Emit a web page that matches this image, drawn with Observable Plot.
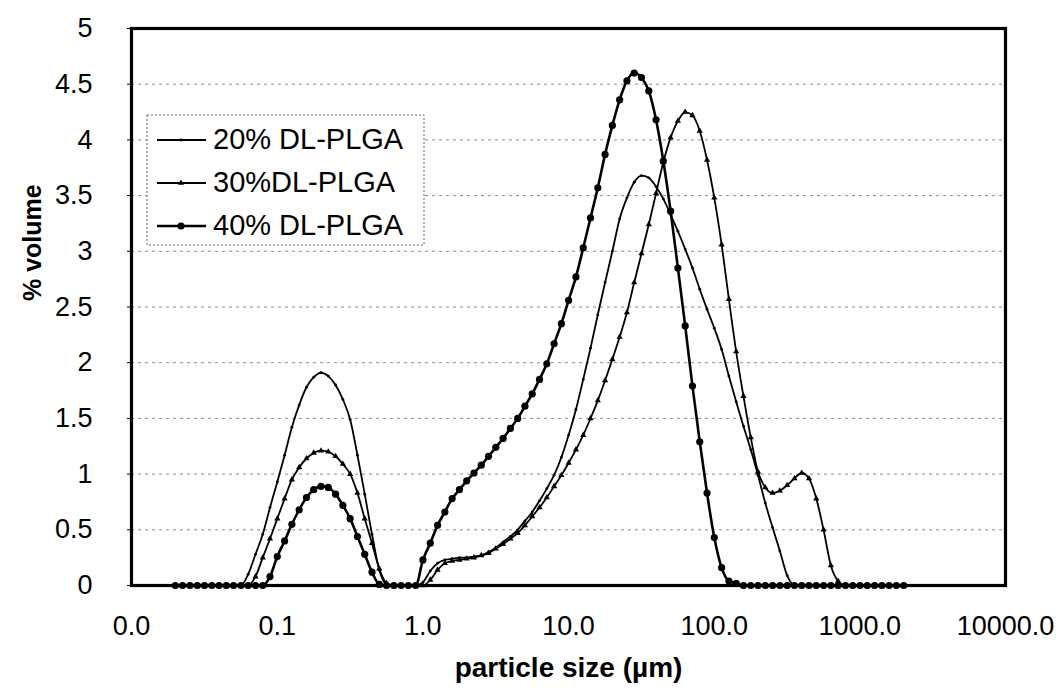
<!DOCTYPE html>
<html>
<head>
<meta charset="utf-8">
<script src="https://cdn.jsdelivr.net/npm/d3@7"></script>
<script src="https://cdn.jsdelivr.net/npm/@observablehq/plot@0.6"></script>
<style>
  html, body { margin: 0; padding: 0; background: #fff; }
  #chart svg { display: block; }
</style>
</head>
<body>
<div id="chart"></div>
<script>
// Particle size classes (µm)
const sizes = [
  0.02, 0.0224, 0.0252, 0.0283, 0.0317, 0.0356, 0.0399, 0.0448, 0.0502, 0.0564,
  0.0632, 0.0710, 0.0796, 0.0893, 0.1002, 0.1125, 0.1262, 0.1416, 0.1589, 0.1783,
  0.2000, 0.2244, 0.2518, 0.2825, 0.3170, 0.3557, 0.3991, 0.4477, 0.5024, 0.5637,
  0.6325, 0.7096, 0.7962, 0.8934, 1.002, 1.125, 1.262, 1.416, 1.589, 1.783,
  2.000, 2.244, 2.518, 2.825, 3.170, 3.557, 3.991, 4.477, 5.024, 5.637,
  6.325, 7.096, 7.962, 8.934, 10.02, 11.25, 12.62, 14.16, 15.89, 17.83,
  20.00, 22.44, 25.18, 28.25, 31.70, 35.57, 39.91, 44.77, 50.24, 56.37,
  63.25, 70.96, 79.62, 89.34, 100.2, 112.5, 126.2, 141.6, 158.9, 178.3,
  200.0, 224.4, 251.8, 282.5, 317.0, 355.7, 399.1, 447.7, 502.4, 563.7,
  632.5, 709.6, 796.2, 893.4, 1002, 1125, 1262, 1416, 1589, 1783,
  2000
];

const pct20 = [
  0,0,0,0,0,0,0,0,0,0,
  0.10,0.28,0.46,0.70,0.93,1.17,1.42,1.62,1.78,1.87,
  1.91,1.88,1.80,1.67,1.49,1.17,0.82,0.46,0.14,0.01,
  0,0,0,0,0.03,0.13,0.20,0.23,0.24,0.25,
  0.25,0.26,0.27,0.30,0.34,0.39,0.44,0.50,0.58,0.66,
  0.76,0.87,0.99,1.15,1.35,1.58,1.85,2.13,2.43,2.72,
  3.00,3.29,3.48,3.62,3.68,3.66,3.58,3.47,3.33,3.18,
  3.02,2.85,2.66,2.48,2.31,2.12,1.88,1.65,1.43,1.22,
  0.99,0.74,0.52,0.31,0.09,0,0,0,0,0,
  0,0,0,0,0,0,0,0,0,0,
  0
];

const pct30 = [
  0,0,0,0,0,0,0,0,0,0,
  0,0.08,0.25,0.42,0.60,0.78,0.95,1.06,1.14,1.19,
  1.21,1.20,1.16,1.09,1.00,0.83,0.60,0.38,0.15,0.02,
  0,0,0,0,0,0.05,0.14,0.20,0.22,0.23,
  0.24,0.25,0.27,0.29,0.33,0.37,0.42,0.47,0.54,0.62,
  0.70,0.79,0.89,0.99,1.10,1.22,1.35,1.50,1.66,1.84,
  2.03,2.23,2.45,2.72,2.98,3.24,3.52,3.80,4.02,4.17,
  4.25,4.22,4.08,3.82,3.48,3.06,2.57,2.10,1.70,1.33,
  1.02,0.88,0.83,0.85,0.90,0.96,1.01,0.96,0.78,0.50,
  0.18,0.04,0,0,0,0,0,0,0,0,
  0
];

const pct40 = [
  0,0,0,0,0,0,0,0,0,0,
  0,0,0,0.08,0.26,0.40,0.55,0.68,0.79,0.86,
  0.89,0.88,0.82,0.72,0.60,0.44,0.28,0.12,0.01,0,
  0,0,0,0,0.23,0.38,0.54,0.66,0.78,0.86,
  0.94,1.01,1.08,1.16,1.24,1.32,1.41,1.50,1.61,1.72,
  1.85,1.99,2.17,2.35,2.56,2.77,3.03,3.30,3.57,3.87,
  4.13,4.36,4.53,4.60,4.56,4.44,4.18,3.81,3.36,2.85,
  2.33,1.79,1.29,0.83,0.43,0.16,0.04,0.02,0,0,
  0,0,0,0,0,0,0,0,0,0,
  0,0,0,0,0,0,0,0,0,0,
  0
];

const seriesNames = ["20% DL-PLGA", "30%DL-PLGA", "40% DL-PLGA"];
const xTicks = [0.01, 0.1, 1, 10, 100, 1000, 10000];
const yTicks = [0, 0.5, 1, 1.5, 2, 2.5, 3, 3.5, 4, 4.5, 5];
const gridVals = [0.5, 1, 1.5, 2, 2.5, 3, 3.5, 4, 4.5];
const xTitle = "particle size (µm)";
const yTitle = "% volume";

const toRows = (vals) => sizes.map((s, i) => ({size: s, v: vals[i]}));
const d20 = toRows(pct20), d30 = toRows(pct30), d40 = toRows(pct40);

const FONT = "'Liberation Sans', Arial, sans-serif";

const chart = Plot.plot({
  width: 1064,
  height: 690,
  marginLeft: 131,
  marginRight: 59,
  marginTop: 28,
  marginBottom: 105,
  style: {fontFamily: FONT, fontSize: "27px", color: "#000", background: "#fff"},
  x: {type: "log", domain: [0.01, 10000]},
  y: {domain: [0, 5]},
  marks: [
    Plot.ruleY(gridVals, {stroke: "#8a8a8a", strokeDasharray: "3,4", strokeWidth: 1}),
    Plot.axisX({ticks: xTicks, tickSize: 0, tickPadding: 30, tickFormat: d => d.toFixed(1), label: null, fontSize: 27}),
    Plot.axisY({ticks: yTicks, tickSize: 4, tickPadding: 35, tickFormat: d => String(d), label: null, fontSize: 27, stroke: "#000"}),
    Plot.line(d20, {x: "size", y: "v", stroke: "#000", strokeWidth: 1.8, curve: "monotone-x"}),
    Plot.line(d30, {x: "size", y: "v", stroke: "#000", strokeWidth: 1.8, curve: "monotone-x"}),
    Plot.line(d40, {x: "size", y: "v", stroke: "#000", strokeWidth: 2.6, curve: "monotone-x"}),
    Plot.dot(d20, {x: "size", y: "v", r: 1.4, fill: "#000"}),
    Plot.dot(d30, {x: "size", y: "v", r: 2.3, symbol: "triangle", fill: "#000"}),
    Plot.dot(d40, {x: "size", y: "v", r: 3.6, fill: "#000"}),
    Plot.frame({stroke: "#000", strokeWidth: 3.2}),
    Plot.text([xTitle], {frameAnchor: "bottom", dy: 91, fontWeight: "bold", fontSize: 28, fill: "#000"}),
    Plot.text([yTitle], {frameAnchor: "left", dx: -99, dy: -6, rotate: -90, fontWeight: "bold", fontSize: 25, fill: "#000"})
  ]
});

document.getElementById("chart").appendChild(chart);

// Legend
const svg = d3.select(chart);
const lg = svg.append("g").attr("font-family", FONT).attr("text-anchor", "start");
lg.append("rect")
  .attr("x", 147).attr("y", 115).attr("width", 277).attr("height", 130)
  .attr("fill", "#fff").attr("stroke", "#666").attr("stroke-width", 1)
  .attr("stroke-dasharray", "2,2");
const rowsY = [140, 183, 226];
seriesNames.forEach((name, k) => {
  const y = rowsY[k];
  lg.append("line").attr("x1", 157).attr("x2", 206).attr("y1", y).attr("y2", y)
    .attr("stroke", "#000").attr("stroke-width", k === 2 ? 2.6 : 1.8);
  if (k === 0) {
    lg.append("circle").attr("cx", 181).attr("cy", y).attr("r", 1.4).attr("fill", "#000");
  } else if (k === 1) {
    lg.append("path").attr("transform", `translate(181,${y})`)
      .attr("d", d3.symbol(d3.symbolTriangle, 16)()).attr("fill", "#000");
  } else {
    lg.append("circle").attr("cx", 181).attr("cy", y).attr("r", 3.6).attr("fill", "#000");
  }
  lg.append("text").attr("x", 213).attr("y", y + 9).attr("font-size", 29)
    .attr("text-anchor", "start").attr("fill", "#000").text(name);
});
</script>
</body>
</html>
